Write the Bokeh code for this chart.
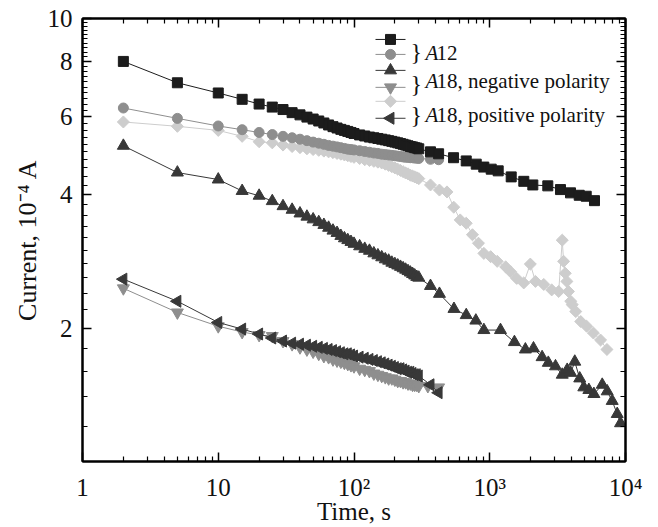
import math
from bokeh.plotting import figure
from bokeh.models import (FixedTicker, LogAxis, Range1d, LinearScale, Label,
                          CustomJSTickFormatter)
from bokeh.embed import file_html
from bokeh.resources import INLINE

FONT = "Liberation Serif"

# ---------------- data (current in 1e-4 A, time in s) ----------------
T_DENSE = [2, 5, 10, 15, 20, 25, 30, 35, 40, 45, 50, 55, 60, 65, 70, 75, 80, 85, 90, 95, 100,
           110, 120, 130, 140, 150, 160, 170, 180, 190, 200, 210, 220, 230, 240, 250, 260,
           270, 280, 290, 300]

A12_SQ_TAIL_T = [366, 420, 541, 671, 795, 904, 1025, 1154, 1439, 1782, 2076, 2677, 3320,
                 3935, 4560, 5135, 5910]
A12_SQ = [8.00, 7.16, 6.79, 6.57, 6.41, 6.31, 6.23, 6.13, 6.06, 5.99, 5.93, 5.87, 5.81, 5.75,
          5.70, 5.66, 5.62, 5.59, 5.56, 5.53, 5.50, 5.46, 5.43, 5.40, 5.38, 5.36, 5.34, 5.32,
          5.30, 5.28, 5.26, 5.24, 5.22, 5.20, 5.18, 5.16, 5.14, 5.13, 5.11, 5.10, 5.08,
          5.00, 4.95, 4.85, 4.77, 4.69, 4.62, 4.57, 4.53, 4.39, 4.29, 4.21, 4.19, 4.11,
          4.04, 3.99, 3.97, 3.88]

A12_CI_TAIL_T = [366, 420]
A12_CI = [6.28, 5.95, 5.72, 5.61, 5.53, 5.47, 5.42, 5.38, 5.34, 5.30, 5.26, 5.23, 5.20, 5.17,
          5.15, 5.13, 5.11, 5.09, 5.07, 5.06, 5.05, 5.03, 5.01, 4.99, 4.97, 4.96, 4.94, 4.93,
          4.92, 4.91, 4.90, 4.89, 4.88, 4.87, 4.86, 4.86, 4.85, 4.85, 4.84, 4.84, 4.83,
          4.81, 4.80]

NEG_UP_TAIL_T = [366, 426, 545, 671, 790, 905, 1200, 1520, 1830, 2100, 2430, 2700, 3050,
                 3420, 3720, 3950, 4230, 4600, 4930, 5370, 5850, 6740, 7330, 7980, 8690, 9190]
NEG_UP = [5.16, 4.49, 4.33, 4.08, 3.98, 3.87, 3.77, 3.70, 3.63, 3.57, 3.52, 3.47, 3.42, 3.37,
          3.32, 3.28, 3.23, 3.19, 3.16, 3.13, 3.10, 3.06, 3.02, 2.99, 2.95, 2.92, 2.89, 2.86,
          2.84, 2.81, 2.79, 2.77, 2.75, 2.73, 2.71, 2.69, 2.67, 2.65, 2.63, 2.61, 2.60,
          2.49, 2.39, 2.21, 2.14, 2.08, 1.98, 1.98, 1.86, 1.79, 1.80, 1.72, 1.67, 1.64,
          1.57, 1.61, 1.585, 1.68, 1.54, 1.47, 1.45, 1.42, 1.49, 1.44, 1.37, 1.28, 1.22]

NEG_DN_TAIL_T = [350, 420]
NEG_DN = [2.46, 2.17, 2.02, 1.96, 1.93, 1.92, 1.87, 1.84, 1.81, 1.79, 1.77, 1.75, 1.73, 1.72,
          1.70, 1.69, 1.68, 1.67, 1.66, 1.65, 1.64, 1.62, 1.61, 1.60, 1.58, 1.57, 1.56, 1.55,
          1.54, 1.54, 1.53, 1.52, 1.52, 1.51, 1.51, 1.50, 1.50, 1.49, 1.49, 1.49, 1.48,
          1.48, 1.47]

POS_DIA_TAIL_T = [366, 426, 484, 543, 606, 671, 746, 826, 905, 1015, 1135, 1310, 1425, 1580,
                  1780, 1990, 2170, 2500, 2860, 3220, 3420, 3500, 3600, 3700, 3800, 3950,
                  4050, 4300, 4680, 5170, 5800, 6550, 7300]
POS_DIA = [5.84, 5.71, 5.59, 5.42, 5.27, 5.24, 5.18, 5.14, 5.11, 5.08, 5.06, 5.04, 5.02, 5.00,
           4.98, 4.96, 4.94, 4.92, 4.90, 4.88, 4.86, 4.83, 4.80, 4.78, 4.76, 4.74, 4.72, 4.69,
           4.66, 4.63, 4.60, 4.57, 4.54, 4.51, 4.48, 4.46, 4.43, 4.41, 4.39, 4.37, 4.35,
           4.21, 4.10, 4.06, 3.75, 3.51, 3.45, 3.25, 3.11, 2.95, 2.90, 2.83, 2.75, 2.68, 2.59,
           2.53, 2.79, 2.55, 2.51, 2.44, 2.42, 3.16, 2.83, 2.66, 2.55, 2.42, 2.30,
           2.26, 2.18, 2.07, 2.02, 1.95, 1.88, 1.79]

POS_LEFT_TAIL_T = [366, 420]
POS_LEFT = [2.58, 2.30, 2.06, 1.99, 1.94, 1.90, 1.87, 1.85, 1.84, 1.83, 1.82, 1.81, 1.80, 1.79,
            1.78, 1.77, 1.76, 1.75, 1.75, 1.74, 1.73, 1.72, 1.71, 1.70, 1.69, 1.68, 1.67, 1.66,
            1.65, 1.64, 1.63, 1.62, 1.62, 1.61, 1.60, 1.59, 1.59, 1.58, 1.57, 1.57, 1.56,
            1.49, 1.43]

X_TICKS = [1, 10, 100, 1000, 10000]
X_TICK_LABELS = ["1", "10", "10\u00b2", "10\u00b3", "10\u2074"]
Y_TICKS = [2, 4, 6, 8, 10]
Y_TICK_LABELS = ["2", "4", "6", "8", "10"]

LEGEND_GROUPS = [("12", ""), ("18", ", negative polarity"), ("18", ", positive polarity")]

# ---------------- figure ----------------
W, H = 658, 527
FL, FR, FT, FB = 82, 33, 18, 65          # borders around the frame
FW, FH = W - FL - FR, H - FT - FB

p = figure(width=W, height=H, x_axis_type="log", y_axis_type="log",
           x_range=Range1d(1, 1e4), y_range=Range1d(1, 10),
           output_backend="svg", toolbar_location=None, title=None,
           min_border_left=FL, min_border_right=FR, min_border_top=FT, min_border_bottom=FB)
p.xgrid.visible = False
p.ygrid.visible = False
p.outline_line_color = "black"
p.outline_line_width = 2
p.background_fill_color = "white"
p.border_fill_color = "white"

# pixel-space ranges used only to place the legend swatches inside the frame
p.extra_x_ranges = {"px": Range1d(0, FW)}
p.extra_y_ranges = {"px": Range1d(0, FH)}
p.extra_x_scales = {"px": LinearScale()}
p.extra_y_scales = {"px": LinearScale()}

x_minor = [m * d for d in (1, 10, 100, 1000) for m in range(2, 10)]
y_minor = [round(1.2 + 0.2 * i, 1) for i in range(44)]
y_minor = [v for v in y_minor if v not in (2.0, 4.0, 6.0, 8.0) and v < 10]
xt = FixedTicker(ticks=X_TICKS, minor_ticks=x_minor)
yt = FixedTicker(ticks=Y_TICKS, minor_ticks=y_minor)

def style_axis(ax):
    ax.axis_line_color = "black"
    ax.axis_line_width = 2
    ax.major_tick_in = 9
    ax.major_tick_out = 0
    ax.minor_tick_in = 5
    ax.minor_tick_out = 0
    ax.major_tick_line_color = "black"
    ax.major_tick_line_width = 1.5
    ax.minor_tick_line_color = "black"
    ax.minor_tick_line_width = 1.2
    ax.major_label_text_font = FONT
    ax.major_label_text_font_size = "25px"
    ax.major_label_text_color = "#111111"

def style_title(ax, standoff, size="25px"):
    ax.axis_label_text_font = FONT
    ax.axis_label_text_font_size = size
    ax.axis_label_text_font_style = "normal"
    ax.axis_label_text_color = "#111111"
    ax.axis_label_standoff = standoff

xa = p.xaxis[0]
xa.ticker = xt
xa.major_label_overrides = {t: s for t, s in zip(X_TICKS, X_TICK_LABELS)}
xa.major_label_standoff = 12
style_axis(xa)
xa.axis_label = "Time, s"
style_title(xa, -6)

ya = p.yaxis[0]
ya.ticker = yt
ya.major_label_overrides = {t: s for t, s in zip(Y_TICKS, Y_TICK_LABELS)}
ya.major_label_standoff = 10
style_axis(ya)
ya.axis_label = "Current, 10\u207b\u2074 A"
style_title(ya, 3, "26px")

blank = CustomJSTickFormatter(code="return ''")
ra = LogAxis(ticker=yt, formatter=blank)
style_axis(ra)
ra.major_label_text_font_size = "0px"
ra.major_label_standoff = 0
p.add_layout(ra, "right")
ta = LogAxis(ticker=xt, formatter=blank)
style_axis(ta)
ta.major_label_text_font_size = "0px"
ta.major_label_standoff = 0
p.add_layout(ta, "above")

# ---------------- series ----------------
C_BLACK, C_DARK, C_MID, C_LIGHT = "#1c1c1c", "#383838", "#8e8e8e", "#cdcdcd"

STYLES = {
    "sq": ("square", C_BLACK, 10, 0.0),
    "ci": ("circle", C_MID, 10, 0.0),
    "up": ("triangle", C_DARK, 12, 0.0),
    "dn": ("inverted_triangle", C_MID, 12, 0.0),
    "dia": ("square", C_LIGHT, 8.5, math.pi / 4),
    "left": ("triangle", C_DARK, 12, math.pi / 2),
}

def series(t, v, key):
    marker, color, size, angle = STYLES[key]
    p.line(t, v, line_color=color, line_width=1)
    p.scatter(t, v, marker=marker, size=size, fill_color=color, line_color=color, angle=angle)

series(T_DENSE + POS_DIA_TAIL_T, POS_DIA, "dia")
series(T_DENSE + A12_CI_TAIL_T, A12_CI, "ci")
series(T_DENSE + A12_SQ_TAIL_T, A12_SQ, "sq")
series(T_DENSE + NEG_DN_TAIL_T, NEG_DN, "dn")
series(T_DENSE + POS_LEFT_TAIL_T, POS_LEFT, "left")
series(T_DENSE + NEG_UP_TAIL_T, NEG_UP, "up")

# ---------------- legend (swatches in frame pixels, measured from frame bottom-left) ----------------
LEG_X0, LEG_X1 = 293, 323
LEG_ROWS = [("sq", 423), ("ci", 408), ("up", 392), ("dn", 375), ("dia", 361), ("left", 344)]
for key, ry in LEG_ROWS:
    marker, color, size, angle = STYLES[key]
    p.line([LEG_X0, LEG_X1], [ry, ry], line_color=color, line_width=1,
           x_range_name="px", y_range_name="px")
    p.scatter([(LEG_X0 + LEG_X1) / 2], [ry], marker=marker, size=size, fill_color=color,
              line_color=color, angle=angle, x_range_name="px", y_range_name="px")

TEXT_BASE = [408.7, 380.3, 347.0]
BRACE_BASE = [409.5, 377.5, 346.5]
for (num, rest), tb, bb in zip(LEGEND_GROUPS, TEXT_BASE, BRACE_BASE):
    p.add_layout(Label(x=LEG_X1 + 5, y=bb, x_units="screen", y_units="screen", text="}",
                       text_font=FONT, text_font_size="24px", text_baseline="alphabetic",
                       text_color="#111111"))
    p.add_layout(Label(x=LEG_X1 + 20, y=tb, x_units="screen", y_units="screen", text="A",
                       text_font=FONT, text_font_size="21px", text_font_style="italic",
                       text_baseline="alphabetic", text_color="#111111"))
    p.add_layout(Label(x=LEG_X1 + 31, y=tb, x_units="screen", y_units="screen",
                       text=num + rest, text_font=FONT, text_font_size="21px",
                       text_baseline="alphabetic", text_color="#111111"))

open("out.html", "w").write(file_html(p, INLINE))
